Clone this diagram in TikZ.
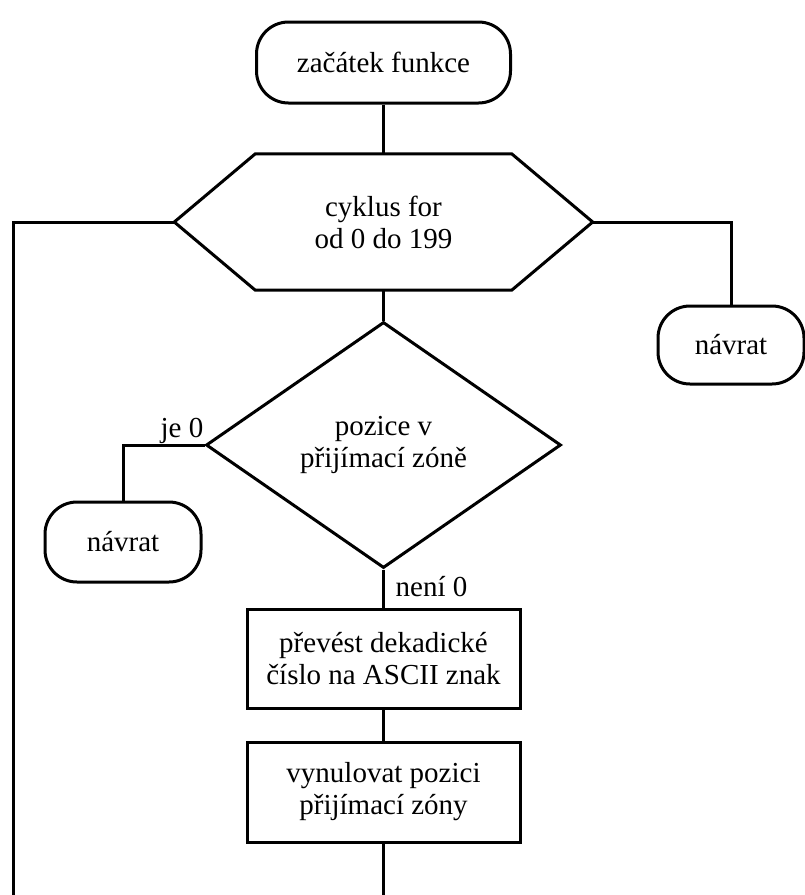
\documentclass[tikz,border=0pt]{standalone}
\usepackage{fontspec}
\setmainfont{Liberation Serif}
\usetikzlibrary{shapes.geometric,calc}
\begin{document}
\begin{tikzpicture}[x=1pt,y=-1pt,
  every node/.style={font=\fontsize{29}{32}\selectfont, inner sep=0pt, align=center},
  line/.style={line width=3pt},
  terminal/.style={draw, line width=3pt, rectangle, rounded corners=32pt},
  process/.style={draw, line width=3pt, rectangle},
  decision/.style={draw, line width=3pt, diamond}]
\useasboundingbox (0,0) rectangle (804,895);
\fill[white] (0,0) rectangle (804,895);

% blocks
\node[terminal, minimum width=254pt, minimum height=81pt] (start) at (383.5,62.5) {začátek funkce};
\node[minimum width=418pt, minimum height=136pt] (loop) at (383.5,222) {cyklus for\\od 0 do 199};
\draw[line] (loop.west) -- ($(loop.north west)+(81,0)$) -- ($(loop.north east)+(-81,0)$)
  -- (loop.east) -- ($(loop.south east)+(-81,0)$) -- ($(loop.south west)+(81,0)$) -- cycle;
\node[decision, minimum width=355pt, minimum height=246pt] (pos) at (383.5,445) {pozice v\\přijímací zóně};
\node[terminal, minimum width=146pt, minimum height=78pt] (retR) at (731,345) {návrat};
\node[terminal, minimum width=156pt, minimum height=80pt] (retL) at (123,542) {návrat};
\node[process, minimum width=273pt, minimum height=99pt] (conv) at (383.5,658.5) {převést dekadické\\číslo na ASCII znak};
\node[process, minimum width=273pt, minimum height=100pt] (clear) at (383.5,792) {vynulovat pozici\\přijímací zóny};

% free ends of the loop-back line and the tail
\coordinate (loopL) at (13,222);
\coordinate (loopB) at (13,895);
\coordinate (tail) at (383.5,895);

% connectors
\draw[line] (start.south) -- (loop.north);
\draw[line] (loop.west) -- (loopL) -- (loopB);
\draw[line] (loop.east) -| (retR.north);
\draw[line] (loop.south) -- (pos.north);
\draw[line] (pos.west) -| (retL.north);
\draw[line] (pos.south) -- (conv.north);
\draw[line] (conv.south) -- (clear.north);
\draw[line] (clear.south) -- (tail);

% branch labels
\node[anchor=base east] (je) at ($(pos.west)+(-1,-8)$) {je 0};
\node[anchor=west] (nenu) at ($(pos.south)+(12,17)$) {není 0};
\end{tikzpicture}
\end{document}
